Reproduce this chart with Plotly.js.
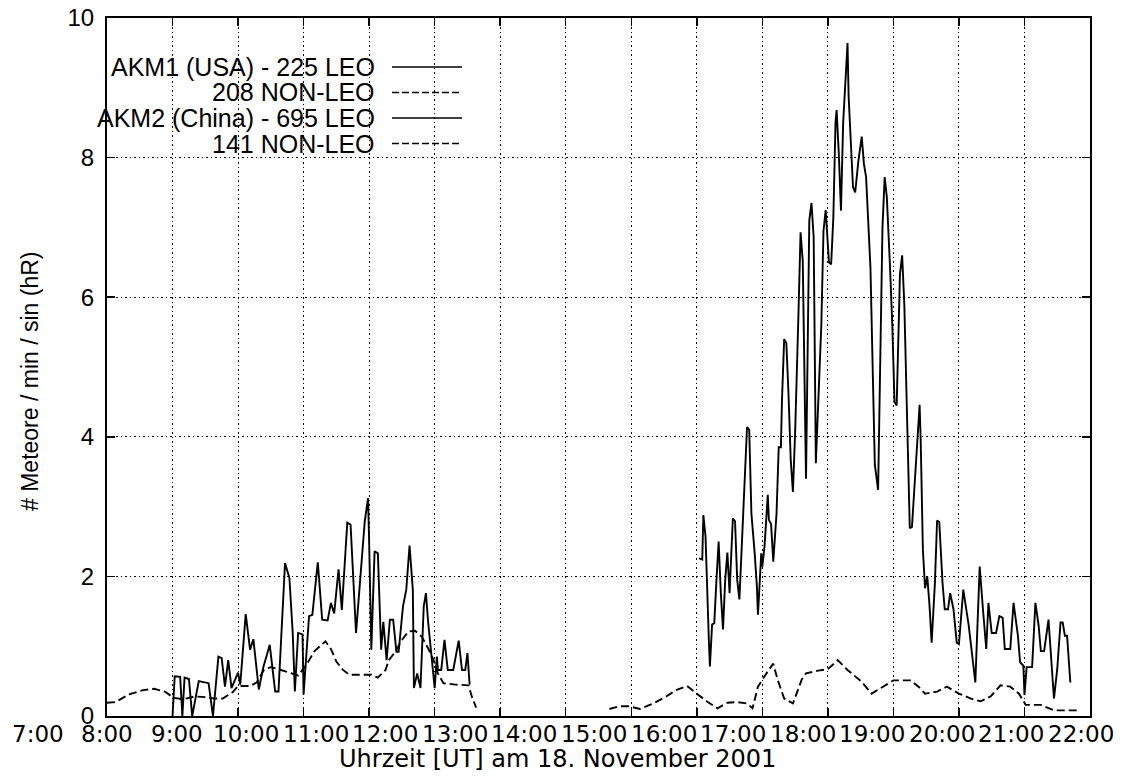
<!DOCTYPE html>
<html>
<head>
<meta charset="utf-8">
<script src="https://cdn.plot.ly/plotly-3.0.1.min.js"></script>
<style>html,body{margin:0;padding:0;background:#fff}</style>
</head>
<body>
<div id="chart" style="width:1124px;height:779px"></div>
<script>
// Meteor rates on 18 November 2001, two stations, LEO and non-LEO counts
const day = '2001-11-18 ';

const usaLeoTime = ['08:00','08:02','08:07','08:09','08:11','08:15','08:18','08:24','08:33','08:37','08:42','08:45','08:48','08:51','08:54','08:57','09:00','09:02','09:07','09:11','09:14','09:19','09:23','09:29','09:34','09:37','09:43','09:47','09:50','09:52','09:55','09:59','10:00','10:05','10:08','10:13','10:17','10:22','10:25','10:28','10:32','10:35','10:40','10:43','10:48','10:56','10:59','11:00','11:02','11:05','11:08','11:11','11:13','11:16','11:19','11:22','11:25','11:27','11:31','11:34','11:37','11:40','11:41','11:44','11:47','11:50','11:52','11:54','12:00','12:02','12:03','12:06','12:09','12:12','12:17','12:22','12:25','12:28','12:30','12:32'];
const usaLeoRate = [0,0.57,0.56,0,0.55,0.53,0,0.5,0.47,0,0.85,0.83,0.42,0.8,0.4,0.5,0.62,0.45,1.46,0.95,1.1,0.38,0.69,1.02,0.35,0.35,2.19,1.98,1.2,0.35,1.19,1.17,0.31,1.43,1.45,2.2,1.38,1.37,1.62,1.47,2.1,1.52,2.77,2.74,1.19,2.79,3.12,2.5,0.95,2.36,2.33,0.95,1.35,0.8,1.38,1.38,0.92,0.92,1.57,1.81,2.44,1.81,0.4,0.61,0.4,1.57,1.76,1.35,0.4,0.85,0.66,0.66,1.09,0.66,0.66,1.08,0.66,0.66,0.9,0.45];

const usaNonLeoTime = ['07:00','07:08','07:20','07:33','07:43','07:53','08:01','08:10','08:20','08:30','08:38','08:46','08:55','09:00','09:11','09:17','09:24','09:30','09:37','09:46','09:55','10:02','10:10','10:20','10:25','10:30','10:36','10:42','10:53','11:02','11:08','11:15','11:18','11:24','11:30','11:36','11:42','11:48','11:54','11:59','12:03','12:08','12:19','12:31','12:34','12:38'];
const usaNonLeoRate = [0.19,0.2,0.31,0.37,0.39,0.35,0.26,0.24,0.28,0.27,0.25,0.25,0.34,0.43,0.43,0.48,0.67,0.7,0.67,0.62,0.58,0.72,0.93,1.07,0.96,0.78,0.66,0.59,0.59,0.59,0.55,0.66,0.8,0.92,1.09,1.21,1.22,1.14,0.97,0.8,0.61,0.47,0.45,0.44,0.28,0.12];

const chinaLeoTime = ['16:02','16:05','16:06','16:08','16:11','16:12','16:14','16:16','16:18','16:20','16:22','16:24','16:26','16:28','16:30','16:33','16:35','16:37','16:39','16:41','16:43','16:46','16:48','16:50','16:53','16:55','16:56','16:59','17:00','17:02','17:05','17:06','17:08','17:10','17:13','17:15','17:17','17:18','17:20','17:22','17:24','17:26','17:28','17:30','17:33','17:35','17:37','17:38','17:40','17:43','17:45','17:47','17:49','17:54','17:56','17:58','18:01','18:03','18:05','18:07','18:08','18:10','18:12','18:14','18:16','18:18','18:19','18:21','18:23','18:25','18:28','18:31','18:33','18:35','18:37','18:39','18:41','18:43','18:46','18:48','18:50','18:52','18:54','18:57','18:59','19:01','19:03','19:06','19:08','19:10','19:12','19:15','19:17','19:21','19:24','19:25','19:27','19:29','19:31','19:33','19:35','19:38','19:40','19:42','19:45','19:47','19:50','19:52','19:55','19:58','20:00','20:04','20:09','20:15','20:19','20:22','20:25','20:27','20:30','20:34','20:37','20:40','20:42','20:47','20:50','20:54','20:56','20:59','21:00','21:02','21:07','21:10','21:13','21:15','21:18','21:22','21:25','21:27','21:30','21:33','21:35','21:37','21:39','21:42'];
const chinaLeoRate = [2.26,2.24,2.88,2.57,1.1,0.71,1.31,1.33,1.95,2.5,1.76,1.24,1.95,2.34,1.76,2.83,2.79,1.95,1.67,2.33,3.14,4.14,4.1,2.9,2.33,1.86,1.45,2.33,2.14,2.43,3.17,2.81,2.75,2.21,2.9,3.85,3.85,4.53,5.4,5.34,4.6,3.67,3.21,4.05,5.72,6.93,6.52,5.37,3.4,7.1,7.35,6.86,3.62,5.6,6.95,7.25,6.5,6.47,7.14,8.5,8.68,8.06,7.24,8.5,9.12,9.64,8.88,8.2,7.58,7.5,7.96,8.3,7.91,7.72,7.1,6.42,5.0,3.6,3.24,5.0,7.0,7.72,7.43,6.4,5.6,4.5,4.45,6.33,6.6,5.9,4.7,2.69,2.71,3.8,4.46,3.94,2.38,1.83,2.0,1.6,1.05,1.9,2.8,2.78,1.9,1.53,1.53,1.76,1.53,1.05,1.03,1.81,1.29,0.48,2.14,1.53,0.96,1.62,1.19,1.19,1.43,1.41,0.96,0.96,1.62,1.15,0.77,0.72,0.3,0.7,0.7,1.62,1.29,0.93,0.93,1.38,0.67,0.25,0.67,1.34,1.34,1.15,1.15,0.48];

const chinaNonLeoTime = ['14:40','14:49','14:58','15:08','15:20','15:32','15:41','15:51','16:00','16:10','16:19','16:28','16:37','16:46','16:51','16:56','17:05','17:10','17:14','17:20','17:28','17:36','17:40','17:51','18:00','18:09','18:18','18:31','18:40','18:48','19:00','19:16','19:23','19:29','19:40','19:49','20:00','20:11','20:20','20:29','20:38','20:47','20:55','21:00','21:01','21:15','21:27','21:39','21:48'];
const chinaNonLeoRate = [0.1,0.14,0.14,0.1,0.18,0.28,0.37,0.43,0.32,0.2,0.11,0.19,0.2,0.18,0.11,0.42,0.64,0.75,0.52,0.25,0.18,0.52,0.61,0.65,0.67,0.8,0.66,0.49,0.32,0.4,0.51,0.51,0.42,0.32,0.35,0.42,0.32,0.25,0.21,0.28,0.44,0.42,0.32,0.19,0.16,0.16,0.08,0.08,0.08];

const hours = [7,8,9,10,11,12,13,14,15,16,17,18,19,20,21,22];
const hourLabels = ['7:00','8:00','9:00','10:00','11:00','12:00','13:00','14:00','15:00','16:00','17:00','18:00','19:00','20:00','21:00','22:00'];

const legendNames = ['AKM1 (USA) - 225 LEO','208 NON-LEO','AKM2 (China) - 695 LEO','141 NON-LEO'];

const FONT = 'Liberation Sans, Arial, Helvetica, sans-serif';
const WIDE = 'DejaVu Sans, Liberation Sans, sans-serif';
const DASH = '8px,4px';
const stamp = t => day + t;
const pad = h => (h < 10 ? '0' : '') + h;

function series(times, rates, dashed) {
  return {
    type: 'scatter', mode: 'lines',
    x: times.map(stamp), y: rates,
    line: {color: '#000', width: 1.9, dash: dashed ? DASH : 'solid'},
    showlegend: false, hoverinfo: 'skip'
  };
}

const data = [
  series(usaLeoTime, usaLeoRate, false),
  series(usaNonLeoTime, usaNonLeoRate, true),
  series(chinaLeoTime, chinaLeoRate, false),
  series(chinaNonLeoTime, chinaNonLeoRate, true)
];

// plot frame in pixels
const W = 1124, H = 779;
const M = {l: 107, r: 34, t: 18, b: 63};
const plotW = W - M.l - M.r, plotH = H - M.t - M.b;
const px2x = p => (p - M.l) / plotW;
const px2y = p => (H - M.b - p) / plotH;

const annotations = [];
// hour labels under the frame
const labelStart = 37.5, labelStep = 69.57;
hourLabels.forEach((lab, i) => {
  annotations.push({
    text: lab, xref: 'paper', yref: 'paper',
    x: px2x(labelStart + i * labelStep), y: px2y(734),
    xanchor: 'center', yanchor: 'middle', showarrow: false,
    font: {family: WIDE, size: 23, color: '#000'}
  });
});
// axis titles
annotations.push({
  text: 'Uhrzeit [UT] am 18. November 2001', xref: 'paper', yref: 'paper',
  x: px2x(557), y: px2y(759), xanchor: 'center', yanchor: 'middle', showarrow: false,
  font: {family: WIDE, size: 24, color: '#000'}
});
annotations.push({
  text: '# Meteore / min / sin (hR)', xref: 'paper', yref: 'paper',
  x: px2x(30), y: px2y(382), xanchor: 'center', yanchor: 'middle', showarrow: false,
  textangle: -90, font: {family: FONT, size: 23, color: '#000'}
});

// key: right-aligned names followed by a line sample
const keyRows = [67, 92.5, 118, 143.5];
const keyDashed = [false, true, false, true];
const shapes = [];
legendNames.forEach((name, i) => {
  annotations.push({
    text: name, xref: 'paper', yref: 'paper',
    x: px2x(377), y: px2y(keyRows[i]), xanchor: 'right', yanchor: 'middle', showarrow: false,
    font: {family: FONT, size: 25, color: '#000'}
  });
  shapes.push({
    type: 'line', xref: 'paper', yref: 'paper',
    x0: px2x(392), x1: px2x(462), y0: px2y(keyRows[i]), y1: px2y(keyRows[i]),
    line: {color: '#000', width: 1.6, dash: keyDashed[i] ? '7px,3px' : 'solid'}
  });
});

const axisCommon = {
  showline: true, linecolor: '#000', linewidth: 2, mirror: 'ticks',
  ticks: 'inside', ticklen: 8, tickwidth: 1.5, tickcolor: '#000',
  showgrid: true, gridcolor: '#000', gridwidth: 1, griddash: '1.5px,3px',
  zeroline: false, fixedrange: true
};

const layout = {
  width: W, height: H,
  margin: M,
  paper_bgcolor: '#fff', plot_bgcolor: '#fff',
  showlegend: false,
  xaxis: Object.assign({}, axisCommon, {
    type: 'date',
    range: [stamp('07:00'), stamp('22:00')],
    tickmode: 'array',
    tickvals: hours.map(h => day + pad(h) + ':00'),
    showticklabels: false
  }),
  yaxis: Object.assign({}, axisCommon, {
    range: [0, 10], tickmode: 'linear', tick0: 0, dtick: 2,
    tickfont: {family: FONT, size: 24, color: '#000'},
    ticklabelstandoff: 6
  }),
  annotations: annotations,
  shapes: shapes
};

Plotly.newPlot('chart', data, layout, {displayModeBar: false, staticPlot: true});
</script>
</body>
</html>
